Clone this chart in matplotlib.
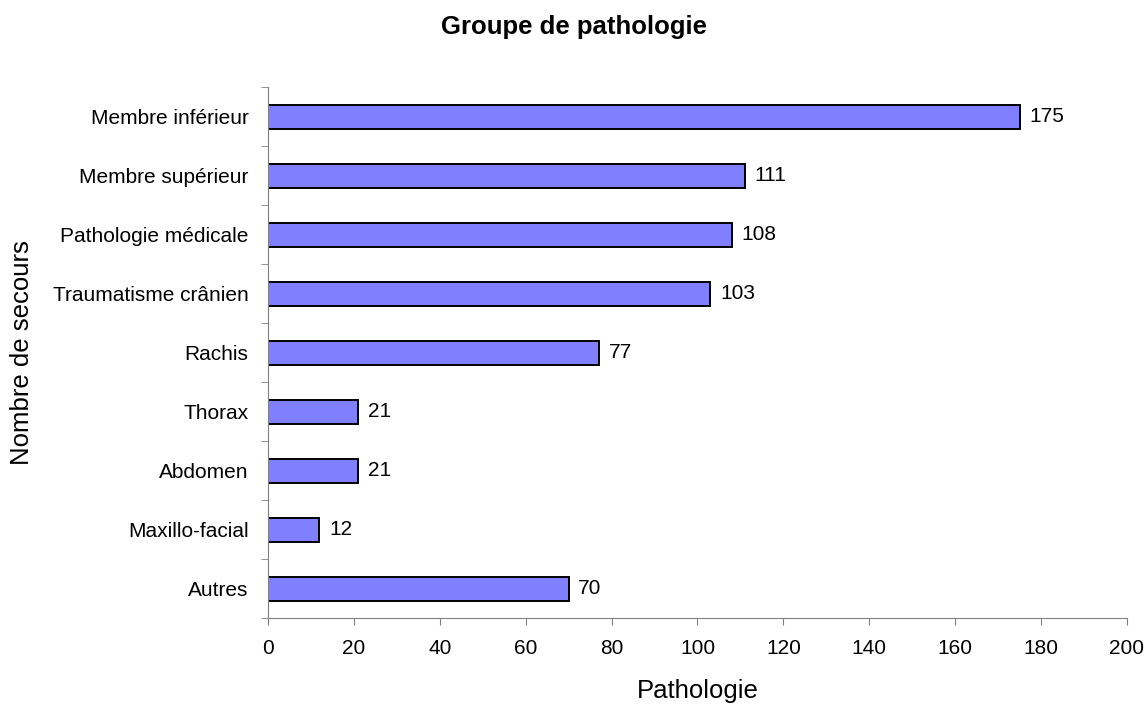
import numpy as np
import matplotlib.pyplot as plt

plt.rcParams['font.family'] = ['Liberation Sans', 'DejaVu Sans']

categories = ["Membre inférieur", "Membre supérieur", "Pathologie médicale",
              "Traumatisme crânien", "Rachis", "Thorax", "Abdomen",
              "Maxillo-facial", "Autres"]
values = [175, 111, 108, 103, 77, 21, 21, 12, 70]
xticks = [0, 20, 40, 60, 80, 100, 120, 140, 160, 180, 200]

fig = plt.figure(figsize=(11.48, 7.04), dpi=100)
ax = fig.add_axes([0.2334, 0.122, 0.7483, 0.754])

y = np.arange(len(categories))
ax.barh(y, values, height=0.41, color="#8080FF", edgecolor="black", linewidth=1.4)

for yi, v in zip(y, values):
    ax.annotate(str(v), (v, yi), xytext=(7, 0), textcoords="offset points",
                va="center", ha="left", fontsize=15)

ax.set_ylim(len(categories) - 0.5, -0.5)
ax.set_xlim(0, 200)
ax.set_xticks(xticks)
ax.tick_params(axis="x", labelsize=15, length=5, color="#808080", pad=10)

ax.set_yticks(y)
ax.set_yticklabels(categories, fontsize=15)
ax.set_yticks(np.arange(-0.5, len(categories)), minor=True)
ax.tick_params(axis="y", which="major", length=0, pad=14)
ax.tick_params(axis="y", which="minor", length=5, color="#808080")

for s in ["top", "right"]:
    ax.spines[s].set_visible(False)
for s in ["left", "bottom"]:
    ax.spines[s].set_color("#808080")

fig.text(0.6076, 1 - 698 / 704, "Pathologie", fontsize=18.5, ha="center", va="baseline")
fig.text(22.5 / 1148, 1 - 353 / 704, "Nombre de secours", fontsize=18.5,
         rotation=90, ha="center", va="center")
fig.text(0.5, 1 - 34 / 704, "Groupe de pathologie", fontsize=18.5,
         fontweight="bold", ha="center", va="baseline")

fig.savefig("out.png", dpi=100)
